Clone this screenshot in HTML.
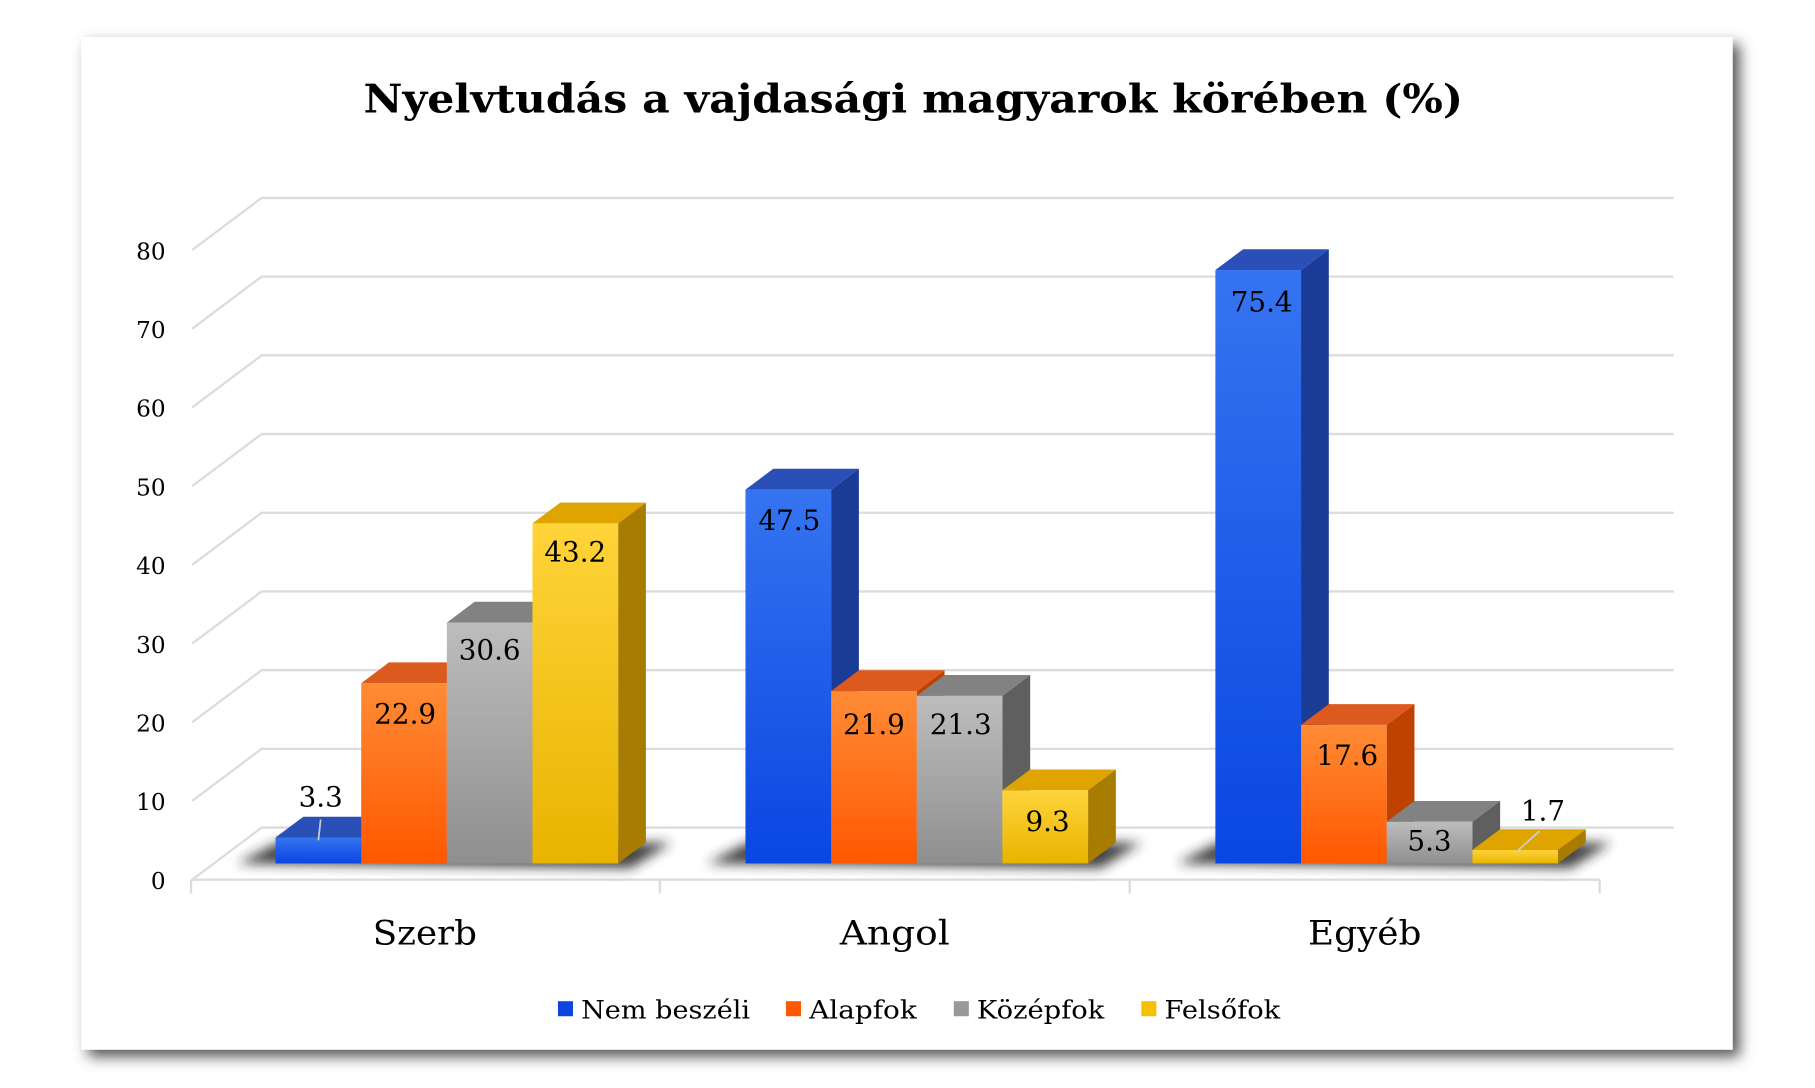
<!DOCTYPE html>
<html><head><meta charset="utf-8"><style>
html,body{margin:0;padding:0;background:#fff;}
svg{display:block;}
text{font-family:"DejaVu Serif","Liberation Serif",serif;fill:#000;}
</style></head><body>
<svg width="1815" height="1088" viewBox="0 0 1568 940" xmlns="http://www.w3.org/2000/svg">
<defs>
<filter id="sh" x="-10%" y="-10%" width="130%" height="130%"><feGaussianBlur stdDeviation="6"/></filter>
<filter id="fs" x="-20%" y="-50%" width="140%" height="200%"><feGaussianBlur stdDeviation="5"/></filter>
<linearGradient id="gb" x1="0" y1="0" x2="0" y2="1"><stop offset="0" stop-color="#3574f0"/><stop offset="1" stop-color="#0a46e2"/></linearGradient>
<linearGradient id="go" x1="0" y1="0" x2="0" y2="1"><stop offset="0" stop-color="#ff8b35"/><stop offset="1" stop-color="#ff5800"/></linearGradient>
<linearGradient id="gg" x1="0" y1="0" x2="0" y2="1"><stop offset="0" stop-color="#bdbdbd"/><stop offset="1" stop-color="#8f8f8f"/></linearGradient>
<linearGradient id="gy" x1="0" y1="0" x2="0" y2="1"><stop offset="0" stop-color="#ffd43a"/><stop offset="1" stop-color="#e8b400"/></linearGradient>
</defs>
<rect x="76" y="38" width="1427" height="875" fill="#555" filter="url(#sh)"/>
<rect x="70" y="32" width="1427" height="875" fill="#fff"/>
<text x="789" y="97" font-size="34" font-weight="bold" text-anchor="middle" textLength="950" lengthAdjust="spacingAndGlyphs">Nyelvtudás a vajdasági magyarok körében (%)</text>
<g stroke="#dcdcdc" stroke-width="2" fill="none">
<path d="M166,760 L226,715 L1446,715"/>
<path d="M166,692 L226,647 L1446,647"/>
<path d="M166,624 L226,579 L1446,579"/>
<path d="M166,556 L226,511 L1446,511"/>
<path d="M166,488 L226,443 L1446,443"/>
<path d="M166,420 L226,375 L1446,375"/>
<path d="M166,352 L226,307 L1446,307"/>
<path d="M166,284 L226,239 L1446,239"/>
<path d="M166,216 L226,171 L1446,171"/>
<path d="M165,760 L1382,760 M165,760 V772 M570,760 V772 M976,760 V772 M1382,760 V772"/>
</g>
<g font-size="20" text-anchor="end">
<text x="143" y="768">0</text><text x="143" y="700">10</text><text x="143" y="632">20</text><text x="143" y="564">30</text><text x="143" y="496">40</text><text x="143" y="428">50</text><text x="143" y="360">60</text><text x="143" y="292">70</text><text x="143" y="224">80</text>
</g>
<g fill="#222" filter="url(#fs)" opacity="0.85">
<path d="M205,746 L240,728 L580,728 L545,750 Z"/>
<path d="M611,746 L646,728 L986,728 L951,750 Z"/>
<path d="M1017,746 L1052,728 L1392,728 L1357,750 Z"/>
</g>
<!-- Szerb -->
<path d="M312,723.6 l24,-18 V728 l-24,18 Z" fill="#1a3c96"/><path d="M238,723.6 l24,-18 h74 l-24,18 Z" fill="#2a50b8"/><rect x="238" y="723.6" width="74" height="22.4" fill="url(#gb)"/>
<path d="M386,590.3 l24,-18 V728 l-24,18 Z" fill="#c04200"/><path d="M312,590.3 l24,-18 h74 l-24,18 Z" fill="#dc5a1e"/><rect x="312" y="590.3" width="74" height="155.7" fill="url(#go)"/>
<path d="M460,537.9 l24,-18 V728 l-24,18 Z" fill="#5f5f5f"/><path d="M386,537.9 l24,-18 h74 l-24,18 Z" fill="#828282"/><rect x="386" y="537.9" width="74" height="208.1" fill="url(#gg)"/>
<path d="M534,452.2 l24,-18 V728 l-24,18 Z" fill="#a87c00"/><path d="M460,452.2 l24,-18 h74 l-24,18 Z" fill="#e0a400"/><rect x="460" y="452.2" width="74" height="293.8" fill="url(#gy)"/>
<!-- Angol -->
<path d="M718,423 l24,-18 V728 l-24,18 Z" fill="#1a3c96"/><path d="M644,423 l24,-18 h74 l-24,18 Z" fill="#2a50b8"/><rect x="644" y="423" width="74" height="323" fill="url(#gb)"/>
<path d="M792,597.1 l24,-18 V728 l-24,18 Z" fill="#c04200"/><path d="M718,597.1 l24,-18 h74 l-24,18 Z" fill="#dc5a1e"/><rect x="718" y="597.1" width="74" height="148.9" fill="url(#go)"/>
<path d="M866,601.2 l24,-18 V728 l-24,18 Z" fill="#5f5f5f"/><path d="M792,601.2 l24,-18 h74 l-24,18 Z" fill="#828282"/><rect x="792" y="601.2" width="74" height="144.8" fill="url(#gg)"/>
<path d="M940,682.8 l24,-18 V728 l-24,18 Z" fill="#a87c00"/><path d="M866,682.8 l24,-18 h74 l-24,18 Z" fill="#e0a400"/><rect x="866" y="682.8" width="74" height="63.2" fill="url(#gy)"/>
<!-- Egyéb -->
<path d="M1124,233.3 l24,-18 V728 l-24,18 Z" fill="#1a3c96"/><path d="M1050,233.3 l24,-18 h74 l-24,18 Z" fill="#2a50b8"/><rect x="1050" y="233.3" width="74" height="512.7" fill="url(#gb)"/>
<path d="M1198,626.3 l24,-18 V728 l-24,18 Z" fill="#c04200"/><path d="M1124,626.3 l24,-18 h74 l-24,18 Z" fill="#dc5a1e"/><rect x="1124" y="626.3" width="74" height="119.7" fill="url(#go)"/>
<path d="M1272,710 l24,-18 V728 l-24,18 Z" fill="#5f5f5f"/><path d="M1198,710 l24,-18 h74 l-24,18 Z" fill="#828282"/><rect x="1198" y="710" width="74" height="36" fill="url(#gg)"/>
<path d="M1346,734.4 l24,-18 V728 l-24,18 Z" fill="#a87c00"/><path d="M1272,734.4 l24,-18 h74 l-24,18 Z" fill="#e0a400"/><rect x="1272" y="734.4" width="74" height="11.6" fill="url(#gy)"/>
<g stroke="#ccc" stroke-width="1.5"><path d="M277,708 L275,726"/><path d="M1330,718 L1310,736"/></g>
<g font-size="24" text-anchor="middle">
<text x="277" y="697">3.3</text>
<text x="350" y="625">22.9</text>
<text x="423" y="570">30.6</text>
<text x="497" y="485">43.2</text>
<text x="682" y="458">47.5</text>
<text x="755" y="634">21.9</text>
<text x="830" y="634">21.3</text>
<text x="905" y="718">9.3</text>
<text x="1090" y="269">75.4</text>
<text x="1164" y="661">17.6</text>
<text x="1235" y="735">5.3</text>
<text x="1333" y="709">1.7</text>
</g>
<g font-size="29" text-anchor="middle">
<text x="367" y="816" textLength="90" lengthAdjust="spacingAndGlyphs">Szerb</text><text x="773" y="816" textLength="95" lengthAdjust="spacingAndGlyphs">Angol</text><text x="1179" y="816" textLength="98" lengthAdjust="spacingAndGlyphs">Egyéb</text>
</g>
<g font-size="22">
<rect x="482" y="865" width="13" height="13" fill="#0a46e2"/><text x="502" y="880" textLength="146" lengthAdjust="spacingAndGlyphs">Nem beszéli</text>
<rect x="679" y="865" width="13" height="13" fill="#ff5800"/><text x="699" y="880" textLength="93" lengthAdjust="spacingAndGlyphs">Alapfok</text>
<rect x="824" y="865" width="13" height="13" fill="#999"/><text x="844" y="880" textLength="110" lengthAdjust="spacingAndGlyphs">Középfok</text>
<rect x="986" y="865" width="13" height="13" fill="#f5c000"/><text x="1006" y="880" textLength="100" lengthAdjust="spacingAndGlyphs">Felsőfok</text>
</g>
</svg>
</body></html>
